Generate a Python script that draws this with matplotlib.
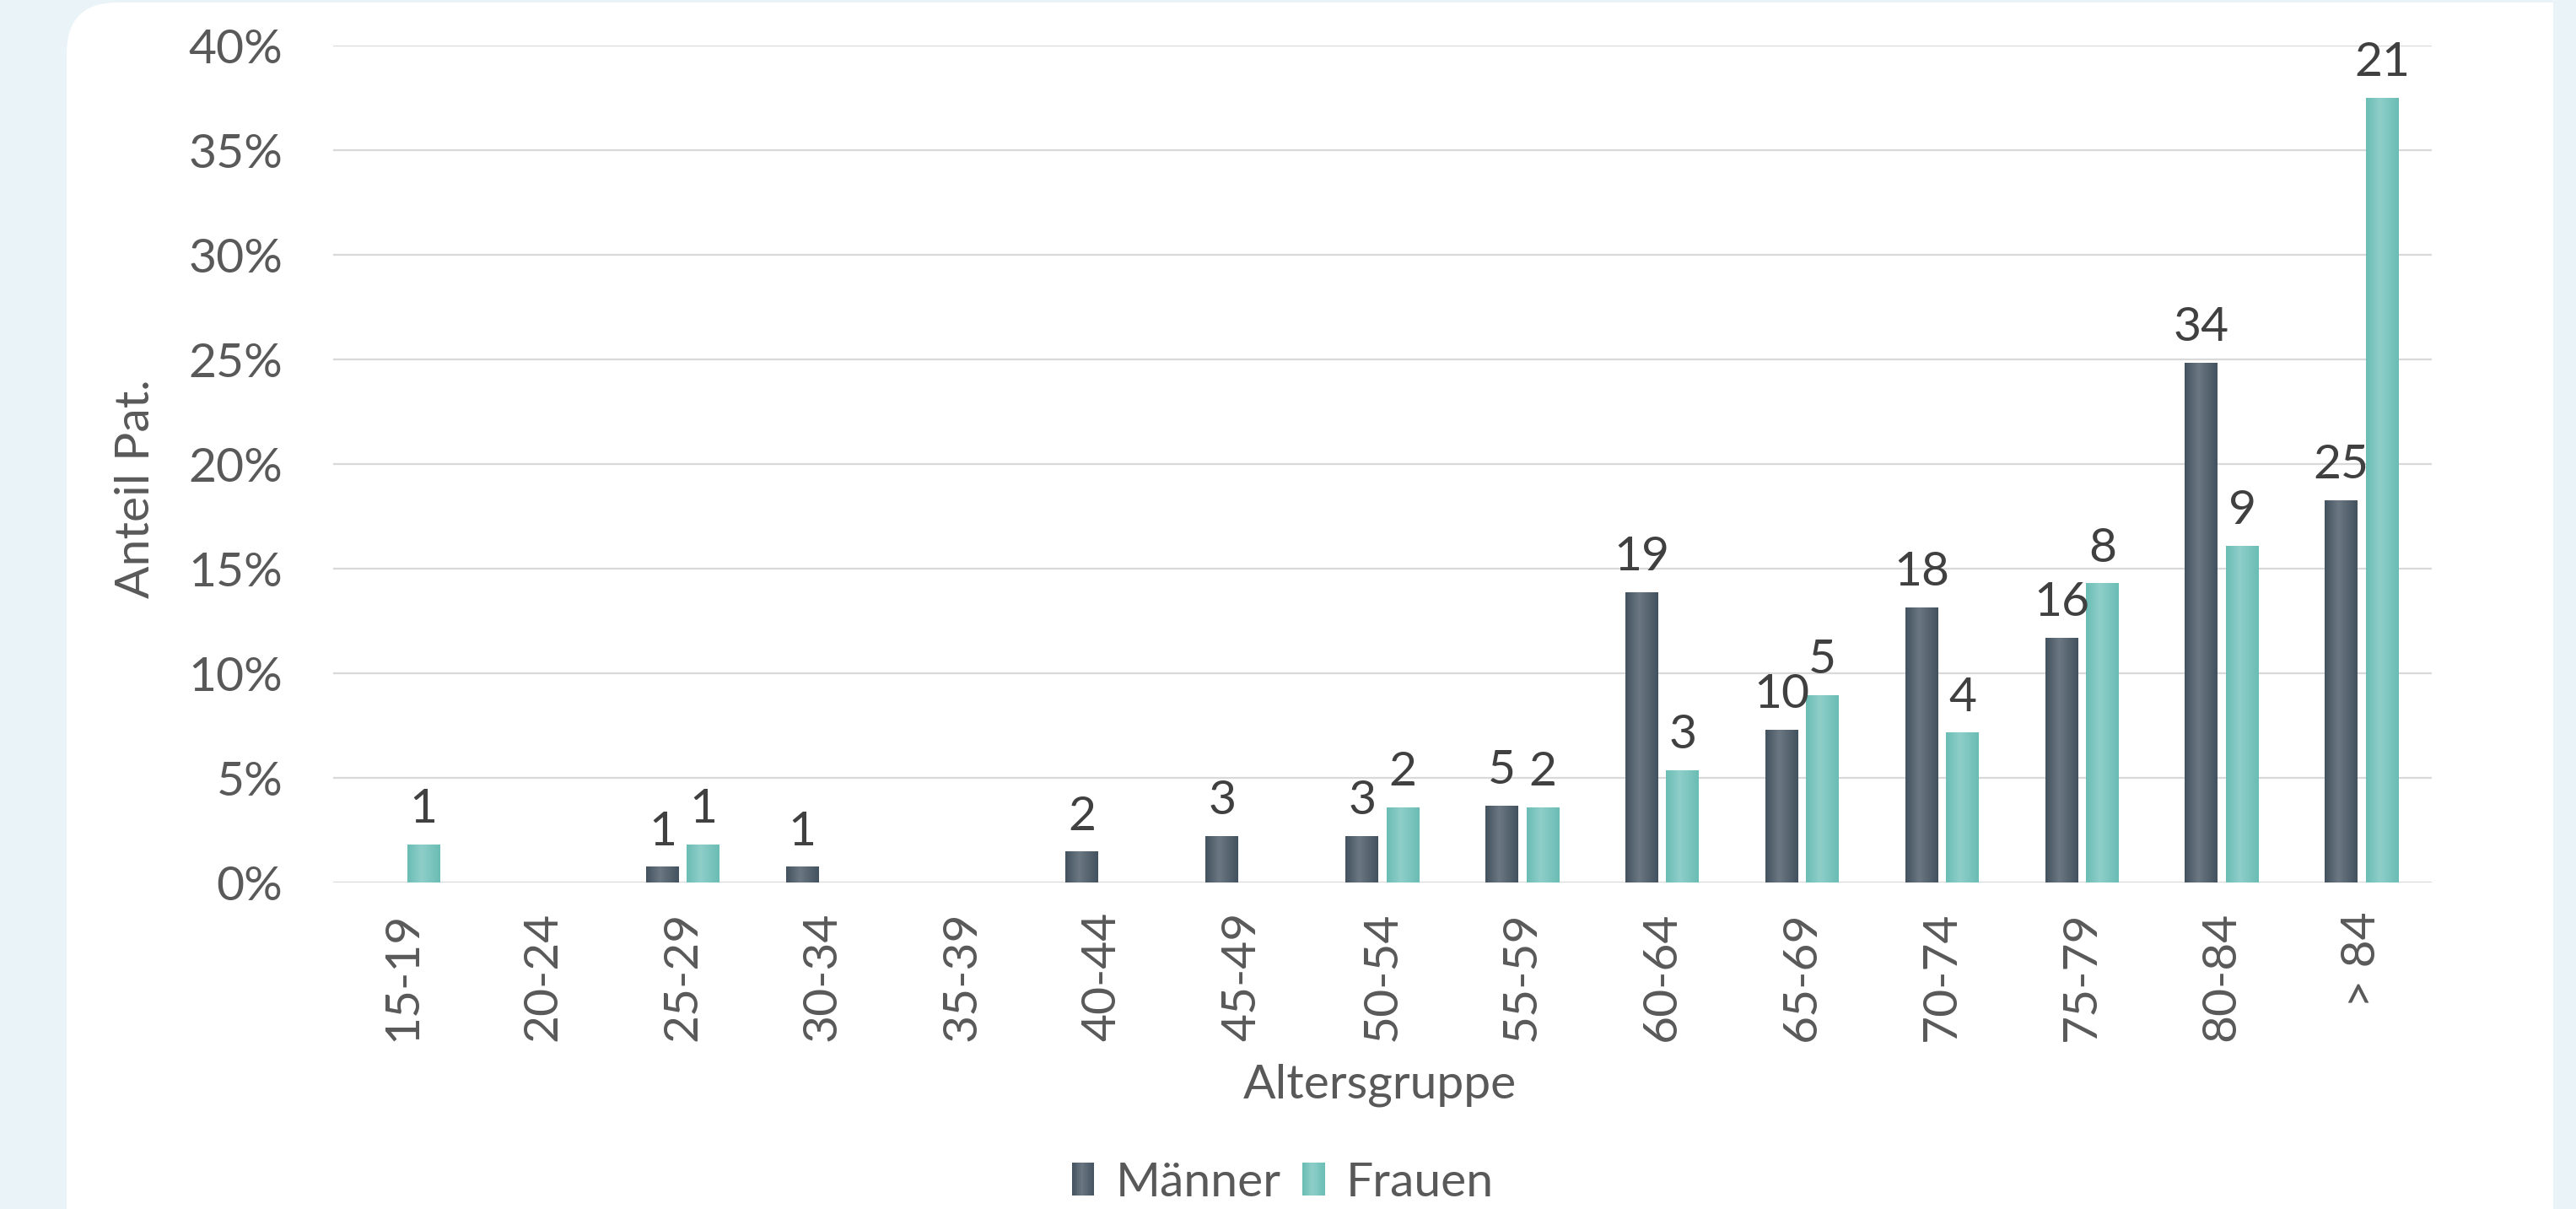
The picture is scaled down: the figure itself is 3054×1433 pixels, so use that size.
import numpy as np
import matplotlib
matplotlib.use("Agg")
import matplotlib.pyplot as plt
import matplotlib.colors as mcolors
from matplotlib.patches import FancyBboxPatch, Rectangle
from matplotlib.legend_handler import HandlerBase

plt.rcParams['font.family'] = ['Lato', 'DejaVu Sans']

# patients per age group (counts, shown above the bars)
age_groups = ["15-19", "20-24", "25-29", "30-34", "35-39", "40-44", "45-49",
              "50-54", "55-59", "60-64", "65-69", "70-74", "75-79", "80-84", "> 84"]
men_counts = np.array([0, 0, 1, 1, 0, 2, 3, 3, 5, 19, 10, 18, 16, 34, 25])
women_counts = np.array([1, 0, 1, 0, 0, 0, 0, 2, 2, 3, 5, 4, 8, 9, 21])
y_ticks = [0.0, 0.05, 0.10, 0.15, 0.20, 0.25, 0.30, 0.35, 0.40]

# share of all patients of the same sex
men_share = men_counts / men_counts.sum()
women_share = women_counts / women_counts.sum()

BG = "#eaf3f7"
TICK_COL = "#595959"
LABEL_COL = "#404040"
GRID_COL = "#d9d9d9"
FS = 41


def gradient(edge, mid, n=64, peak=0.42):
    t = np.linspace(0, 1, n)
    w = np.where(t < peak, t / peak, (1 - t) / (1 - peak))
    e = np.array(mcolors.to_rgb(edge))
    m = np.array(mcolors.to_rgb(mid))
    return e + (m - e) * w[:, None]


men_grad = gradient("#43525f", "#6b7883")
women_grad = gradient("#6abdb5", "#8fcec9")


class GradientHandler(HandlerBase):
    def __init__(self, colors):
        super().__init__()
        self.colors = colors

    def create_artists(self, legend, orig_handle, xdescent, ydescent,
                       width, height, fontsize, trans):
        n = len(self.colors)
        arts = []
        for i, c in enumerate(self.colors):
            r = Rectangle((-xdescent + width * i / n, -ydescent), width / n * 1.1, height,
                          facecolor=c, edgecolor="none", transform=trans)
            arts.append(r)
        return arts


fig = plt.figure(figsize=(30.54, 14.33), dpi=100)
fig.patch.set_facecolor(BG)

# white card behind the chart, rounded only at the top left
rad = 0.6
card = FancyBboxPatch((0.79 + rad, -2), 30.27 - 0.79 - 2 * rad, 14.30 + 2 - rad,
                      boxstyle=f"round,pad={rad}", transform=fig.dpi_scale_trans,
                      facecolor="white", edgecolor="none", zorder=-5)
fig.patches.append(card)
fig.patches.append(Rectangle((15, 10), 30.27 - 15, 4.30, transform=fig.dpi_scale_trans,
                             facecolor="white", edgecolor="none", zorder=-5))
fig.patches.append(Rectangle((0.79, -1), 5, 12, transform=fig.dpi_scale_trans,
                             facecolor="white", edgecolor="none", zorder=-5))

ax = fig.add_axes([0.1293, 0.270, 0.944 - 0.1293, 0.962 - 0.270])
ax.set_facecolor("none")
ax.set_zorder(2)

x = np.arange(len(age_groups))
width = 0.235
offset = 0.146

bars_m = ax.bar(x - offset, men_share, width, color="#56636f", zorder=2)
bars_w = ax.bar(x + offset, women_share, width, color="#7cc5bf", zorder=2)

for bars, grad, counts in ((bars_m, men_grad, men_counts), (bars_w, women_grad, women_counts)):
    for b, n in zip(bars, counts):
        if n == 0:
            continue
        x0, w, h = b.get_x(), b.get_width(), b.get_height()
        ax.imshow(grad[None, :, :], extent=[x0, x0 + w, 0, h], aspect="auto",
                  interpolation="bilinear", zorder=3)
        ax.annotate(str(n), (x0 + w / 2, h), xytext=(0, 19), textcoords="offset points",
                    ha="center", va="baseline", fontsize=FS, color=LABEL_COL, zorder=4)

ax.set_xlim(-0.5, len(age_groups) - 0.5)
ax.set_ylim(0, 0.40)
ax.set_yticks(y_ticks)
ax.set_yticklabels([f"{int(round(v * 100))}%" for v in y_ticks])
ax.set_xticks(x)
ax.set_xticklabels(age_groups, rotation=90)

ax.yaxis.grid(True, color=GRID_COL, linewidth=1.6, zorder=1)
ax.set_axisbelow(True)
for s in ax.spines.values():
    s.set_visible(False)
ax.tick_params(axis="both", length=0, labelsize=FS, labelcolor=TICK_COL)
ax.tick_params(axis="y", pad=43)
ax.tick_params(axis="x", pad=25)

fig.text(0.053, 0.596, "Anteil Pat.", rotation=90, ha="center", va="center",
         fontsize=FS, color=TICK_COL)
fig.text(0.5357, 0.092, "Altersgruppe", ha="center", va="baseline",
         fontsize=FS, color=TICK_COL)

h_m = Rectangle((0, 0), 1, 1)
h_w = Rectangle((0, 0), 1, 1)
fig.legend([h_m, h_w], ["Männer", "Frauen"], loc="center", bbox_to_anchor=(0.498, 0.0216),
           ncol=2, frameon=False, fontsize=FS, labelcolor=TICK_COL,
           handlelength=0.46, handleheight=0.68, handletextpad=0.45, columnspacing=0.45,
           handler_map={h_m: GradientHandler(men_grad[::4]), h_w: GradientHandler(women_grad[::4])})

fig.savefig("out.png", dpi=100, facecolor=BG)
